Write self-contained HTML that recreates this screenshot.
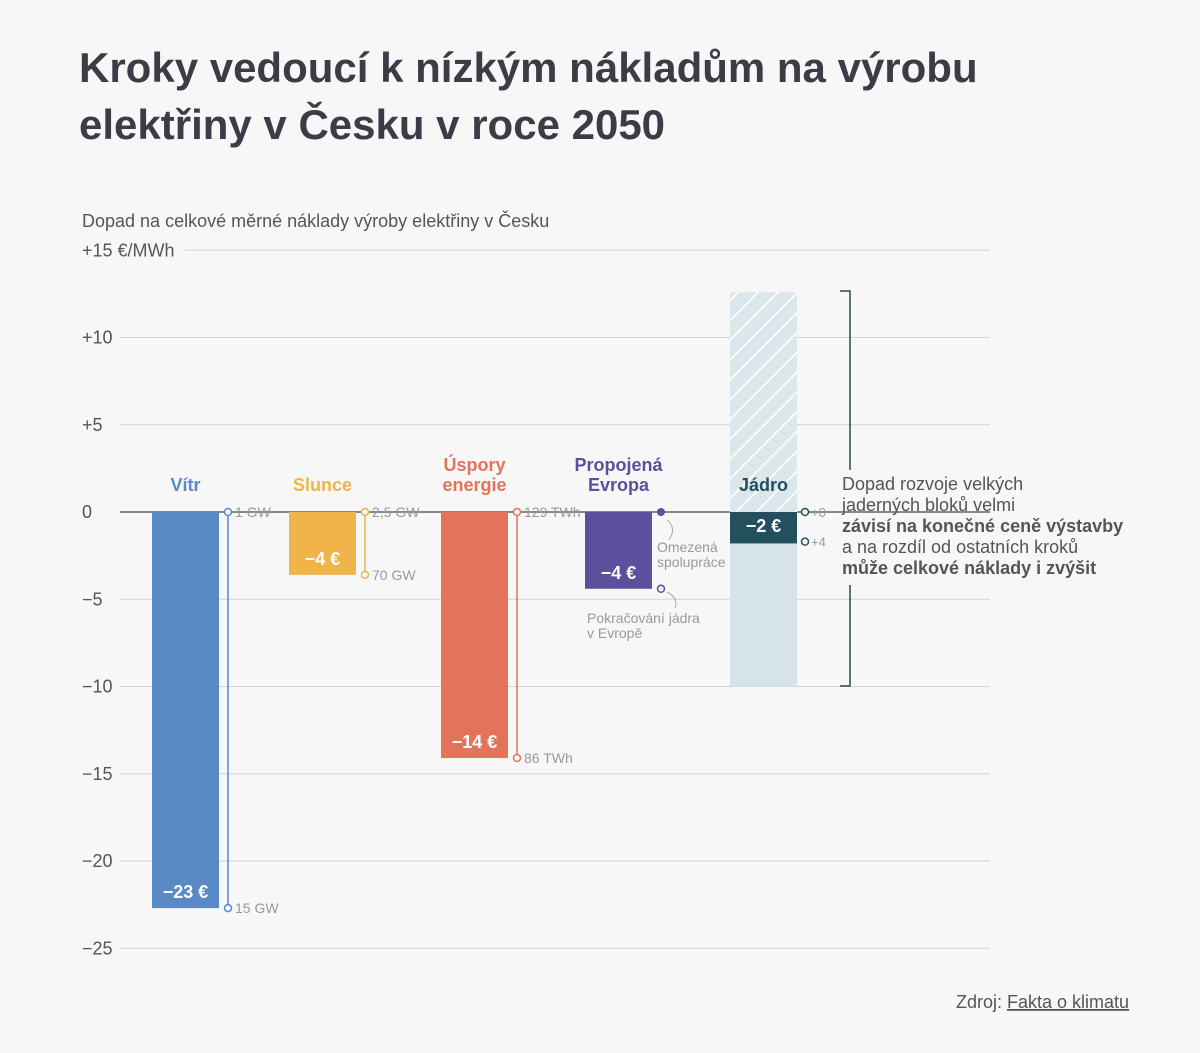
<!DOCTYPE html>
<html><head><meta charset="utf-8"><style>
body{margin:0;background:#f7f7f7;font-family:"Liberation Sans",sans-serif}
svg text{font-family:"Liberation Sans",sans-serif}
</style></head><body>
<svg width="1200" height="1048" viewBox="0 0 1200 1048" xmlns="http://www.w3.org/2000/svg">
<defs><pattern id="hatch" width="14" height="14" patternUnits="userSpaceOnUse" patternTransform="rotate(45)"><rect width="14" height="14" fill="#dce7ec"/><line x1="0" y1="0" x2="0" y2="14" stroke="#fff" stroke-width="3"/></pattern></defs>
<rect width="1200" height="1048" fill="#f7f7f7"/>
<text x="79" y="82" font-size="42" font-weight="bold" fill="#3c3c47">Kroky vedoucí k nízkým nákladům na výrobu</text>
<text x="79" y="139" font-size="42" font-weight="bold" fill="#3c3c47">elektřiny v Česku v roce 2050</text>
<text x="82" y="227" font-size="18" fill="#555">Dopad na celkové měrné náklady výroby elektřiny v Česku</text>
<g id="grid"></g>
<g id="bars"></g>
<g id="jadro-note">
<path d="M840 291 H850 V470 M850 585 V686 H840" fill="none" stroke="#2d4a55" stroke-width="1.5"/>
<text font-size="18" fill="#555"><tspan x="842" y="490">Dopad rozvoje velkých</tspan><tspan x="842" y="511">jaderných bloků velmi</tspan><tspan x="842" y="532" font-weight="bold">závisí na konečné ceně výstavby</tspan><tspan x="842" y="553">a na rozdíl od ostatních kroků</tspan><tspan x="842" y="574" font-weight="bold">může celkové náklady i zvýšit</tspan></text>
</g>
<text x="956" y="1008" font-size="18" fill="#555">Zdroj: <tspan text-decoration="underline">Fakta o klimatu</tspan></text>
</svg>
<script>
const ticks=[15,10,5,0,-5,-10,-15,-20,-25];
const tickLabels=["+15 €/MWh","+10","+5","0","−5","−10","−15","−20","−25"];
const categories=["Vítr","Slunce","Úspory energie","Propojená Evropa","Jádro"];
const values=[-22.7,-3.6,-14.1,-4.4,-1.8];
const valueLabels=["−23 €","−4 €","−14 €","−4 €","−2 €"];
const nuclearRange=[12.6,-10];
const NS="http://www.w3.org/2000/svg";
const y=v=>512-v*17.45;
function el(t,a,p){const e=document.createElementNS(NS,t);for(const k in a)e.setAttribute(k,a[k]);p.appendChild(e);return e;}
const grid=document.getElementById('grid'),bars=document.getElementById('bars');
ticks.forEach((t,i)=>{
 const lx=i==0?185:120;
 const l=el('line',{x1:lx,x2:990,y1:y(t),y2:y(t),stroke:t==0?'#888':'#d3d3d3','stroke-width':t==0?2:1},grid);
 
 
 const tx=el('text',{x:82,y:y(t)+6,'font-size':18,fill:'#555'},grid);tx.textContent=tickLabels[i];
 
 
});
const xs=[152,289,441,585,730],w=67;
const colors=["#5a8ac6","#f0b44b","#e3735a","#5e4f9c","#24505e"];
// nuclear range
const r1=el('rect',{x:730,y:y(nuclearRange[0]),width:w,height:y(0)-y(nuclearRange[0]),fill:'url(#hatch)'},bars);


const r2=el('rect',{x:730,y:y(0),width:w,height:y(nuclearRange[1])-y(0),fill:'#d6e3ea'},bars);


categories.forEach((c,i)=>{
 const b=el('rect',{x:xs[i],y:y(0),width:w,height:y(values[i])-y(0),fill:colors[i]},bars);
 
 
 const vl=el('text',{x:xs[i]+w/2,y:(i==4?y(0)+20:y(values[i])-10),'font-size':18,'font-weight':'bold',fill:'#fff','text-anchor':'middle'},bars);vl.textContent=valueLabels[i];
 
 
 const parts=c.split(' ');const two=(i==2||i==3);
 const cl=el('text',{x:xs[i]+w/2,'font-size':18,'font-weight':'bold',fill:colors[i],'text-anchor':'middle'},bars);
 
 
 if(two){parts.forEach((p,j)=>{const ts=el('tspan',{x:xs[i]+w/2,y:471+j*20},cl);ts.textContent=p;});}
 else{cl.setAttribute('y',491);cl.textContent=c;}
});
// range markers
const ranges=[[0,0,-22.7,"1 GW","15 GW"],[1,0,-3.6,"2,5 GW","70 GW"],[2,0,-14.1,"129 TWh","86 TWh"]];
ranges.forEach(r=>{const i=r[0],x=xs[i]+w+9;
 el('line',{x1:x,x2:x,y1:y(r[1]),y2:y(r[2]),stroke:colors[i],'stroke-width':1.5},bars);
 [[r[1],r[3]],[r[2],r[4]]].forEach(p=>{el('circle',{cx:x,cy:y(p[0]),r:3.5,fill:'#f7f7f7',stroke:colors[i],'stroke-width':1.5},bars);
 const t=el('text',{x:x+7,y:y(p[0])+5,'font-size':14,fill:'#999'},bars);t.textContent=p[1];
 
 });
});
el('circle',{cx:661,cy:y(0),r:4,fill:colors[3]},bars);
el('circle',{cx:661,cy:y(-4.4),r:3.5,fill:'#f7f7f7',stroke:colors[3],'stroke-width':1.5},bars);
[["Omezená",552],["spolupráce",567],["Pokračování jádra",623],["v Evropě",638]].forEach((a,j)=>{const t=el('text',{x:j<2?657:587,y:a[1],'font-size':14,fill:'#999'},bars);t.textContent=a[0];
 
 });
el('path',{d:'M667 520 q10 8 2 20 M667 592 q12 6 8 16',fill:'none',stroke:'#aaa','stroke-width':1},bars);
[[0,"+0"],[-1.7,"+4"]].forEach(a=>{el('circle',{cx:805,cy:y(a[0]),r:3.5,fill:'#f7f7f7',stroke:colors[4],'stroke-width':1.5},bars);
 const t=el('text',{x:811,y:y(a[0])+5,'font-size':13,fill:'#999'},bars);t.textContent=a[1];
 
 });
</script>
</body></html>
